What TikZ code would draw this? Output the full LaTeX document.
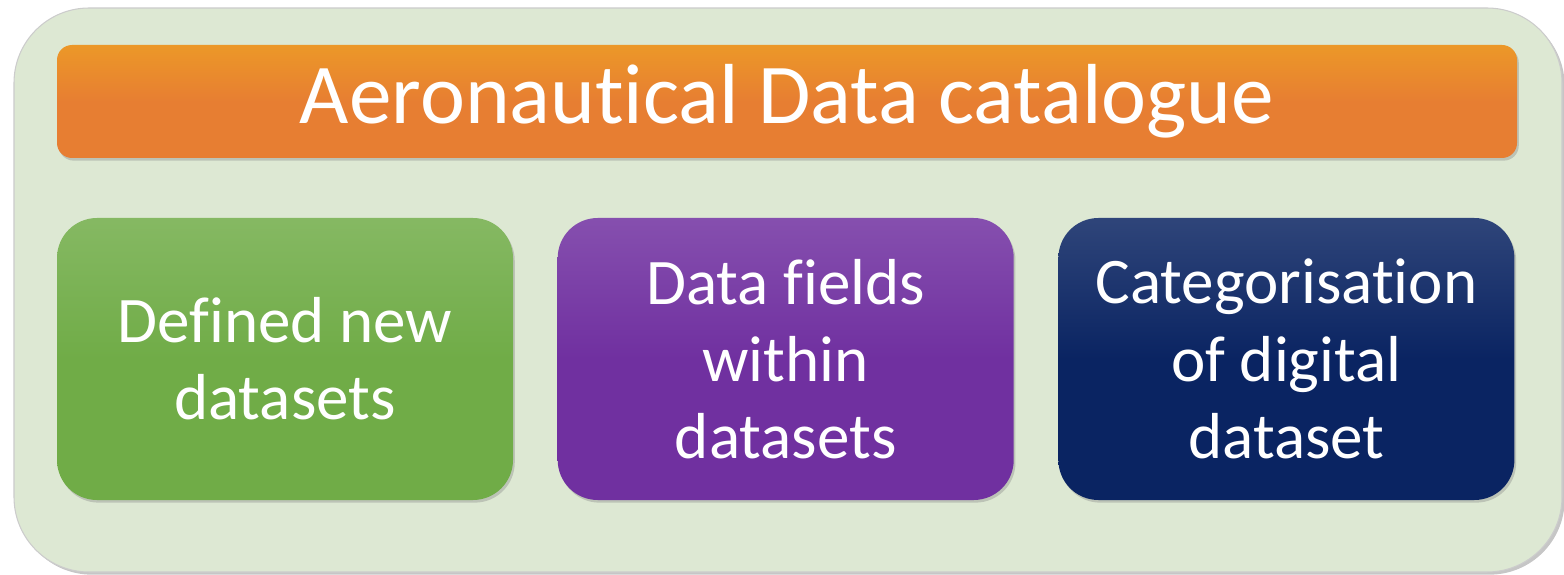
\documentclass[tikz,border=0pt]{standalone}
\usepackage{fontspec}
\setmainfont{Carlito}[Ligatures={NoCommon,NoRare,NoContextual}]
\usepackage{xcolor}
\usepackage{tikz}
\usetikzlibrary{shapes,arrows,calc,positioning,shadows}

\definecolor{panelgreen}{RGB}{221,232,211}
\definecolor{barorange}{RGB}{231,126,50}
\definecolor{boxgreen}{RGB}{112,172,71}
\definecolor{boxpurple}{RGB}{112,48,160}
\definecolor{boxnavy}{RGB}{10,36,98}

\begin{document}
\begin{tikzpicture}[
      node distance = 0.88cm
    ]
    \tikzstyle{panel} = [rounded corners=1.5cm, draw=gray!40, line width=0.6pt,
      fill=panelgreen, minimum width=30.96cm, minimum height=11.28cm,
      drop shadow={shadow xshift=1.5pt, shadow yshift=-1.5pt, opacity=0.45}]
    \tikzstyle{title bar} = [rounded corners=0.3cm, minimum width=29.2cm,
      minimum height=2.26cm, text=white, font=\fontsize{48.5}{58}\selectfont,
      drop shadow={shadow xshift=1pt, shadow yshift=-1.5pt, opacity=0.35}]
    \tikzstyle{topic box} = [rounded corners=0.8cm, minimum width=9.12cm,
      minimum height=5.64cm, text=white, align=center,
      font=\fontsize{37}{44}\selectfont,
      drop shadow={shadow xshift=1pt, shadow yshift=-1.5pt, opacity=0.35}]
    \useasboundingbox (0,0) rectangle (31.28,11.48);
    \node[panel] (panel) at (15.76,5.68) {};
    \node[title bar, top color=barorange!80!yellow, bottom color=barorange,
      middle color=barorange] (catalogue) at (15.74,9.45) {Aeronautical Data catalogue};
    \node[topic box, top color=boxgreen!85!white, bottom color=boxgreen,
      middle color=boxgreen] (defined) at (5.7,4.3) {Defined new\\datasets};
    \node[topic box, top color=boxpurple!85!white, bottom color=boxpurple,
      middle color=boxpurple] (fields) [right=of defined] {Data fields\\within\\datasets};
    \node[topic box, top color=boxnavy!85!white, bottom color=boxnavy,
      middle color=boxnavy] (categories) [right=of fields] {Categorisation\\of digital\\dataset};
  \end{tikzpicture}
\end{document}
